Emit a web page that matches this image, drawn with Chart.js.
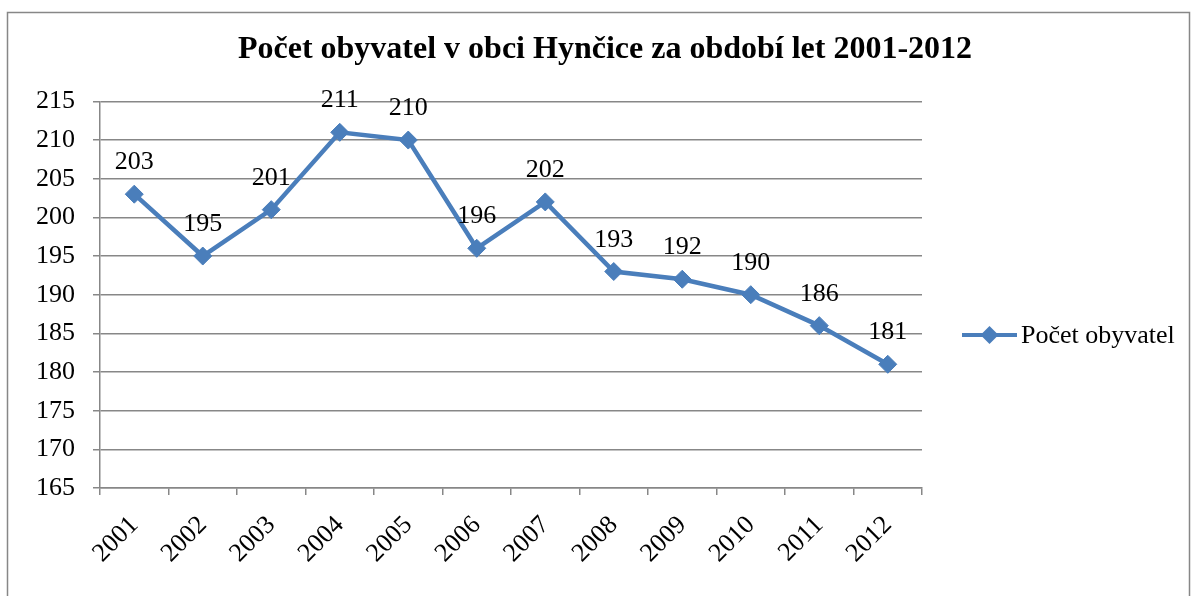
<!DOCTYPE html>
<html>
<head>
<meta charset="utf-8">
<script src="https://cdn.jsdelivr.net/npm/chart.js@4"></script>
<style>
  html, body { margin: 0; padding: 0; background: #fff; }
  #wrap { width: 1194px; height: 596px; }
</style>
</head>
<body>
<div id="wrap"><canvas id="myChart" width="1194" height="596"></canvas></div>
<script>
// data
var years = ['2001', '2002', '2003', '2004', '2005', '2006', '2007', '2008', '2009', '2010', '2011', '2012'];
var population = [203, 195, 201, 211, 210, 196, 202, 193, 192, 190, 186, 181];
var seriesName = 'Počet obyvatel';
var chartTitle = 'Počet obyvatel v obci Hynčice za období let 2001-2012';
var yMin = 165, yMax = 215, yStep = 5;

var serif = "'Liberation Serif', 'Times New Roman', serif";
var blue = '#4a7ebb';
var gray = '#878787';

// frame around the whole chart
var framePlugin = {
  id: 'frame',
  beforeDraw: function(chart) {
    var c = chart.ctx;
    c.save();
    c.fillStyle = '#fff';
    c.fillRect(0, 0, chart.width, chart.height);
    c.strokeStyle = gray;
    c.lineWidth = 1.5;
    c.strokeRect(7.5, 12.5, 1182, 600);
    c.restore();
  }
};

// value labels above each point
var valueLabels = {
  id: 'valueLabels',
  afterDatasetsDraw: function(chart) {
    var c = chart.ctx;
    var meta = chart.getDatasetMeta(0);
    c.save();
    c.font = '26px ' + serif;
    c.fillStyle = '#000';
    c.textAlign = 'center';
    c.textBaseline = 'alphabetic';
    meta.data.forEach(function(pt, i) {
      c.fillText(String(population[i]), pt.x, pt.y - 25);
    });
    c.restore();
  }
};

// Excel-like legend: line with a diamond, then the name
var sideLegend = {
  id: 'sideLegend',
  afterDraw: function(chart) {
    var c = chart.ctx;
    var y = 335;
    c.save();
    c.strokeStyle = blue;
    c.lineWidth = 4;
    c.beginPath();
    c.moveTo(962, y);
    c.lineTo(1017, y);
    c.stroke();
    c.fillStyle = blue;
    c.beginPath();
    c.moveTo(989.5, y - 9); c.lineTo(998.5, y); c.lineTo(989.5, y + 9); c.lineTo(980.5, y);
    c.closePath();
    c.fill();
    c.font = '26px ' + serif;
    c.fillStyle = '#000';
    c.textAlign = 'left';
    c.textBaseline = 'middle';
    c.fillText(seriesName, 1021, y + 1);
    c.restore();
  }
};

var ctx = document.getElementById('myChart');
new Chart(ctx, {
  type: 'line',
  data: {
    labels: years,
    datasets: [{
      label: seriesName,
      data: population,
      borderColor: blue,
      backgroundColor: blue,
      borderWidth: 4.5,
      pointStyle: 'rectRot',
      pointRadius: 9,
      pointBorderWidth: 1,
      pointBackgroundColor: blue,
      pointBorderColor: blue,
      tension: 0,
      yAxisID: 'y'
    }]
  },
  options: {
    responsive: false,
    animation: false,
    layout: { padding: { left: 16, right: 0, top: 0, bottom: 0 } },
    plugins: {
      legend: { display: false },
      tooltip: { enabled: false },
      title: {
        display: true,
        text: chartTitle,
        color: '#000',
        font: { family: serif, size: 32, weight: 'bold', lineHeight: 1.2 },
        padding: { top: 31, bottom: 32 }
      }
    },
    scales: {
      x: {
        offset: true,
        grid: {
          offset: true,
          drawOnChartArea: false,
          drawTicks: true,
          tickLength: 7,
          color: gray,
          lineWidth: 1.5
        },
        border: { display: true, color: gray, width: 1.5 },
        ticks: {
          color: '#000',
          font: { family: serif, size: 26 },
          minRotation: 45,
          maxRotation: 45,
          padding: 15
        },
        afterFit: function(scale) { scale.height = 108; }
      },
      y: {
        position: 'left',
        min: yMin,
        max: yMax,
        grid: {
          color: gray,
          lineWidth: 1.5,
          drawTicks: true,
          tickLength: 7
        },
        border: { display: true, color: gray, width: 1.5 },
        ticks: {
          stepSize: yStep,
          color: '#000',
          font: { family: serif, size: 26 },
          padding: 18
        },
        afterFit: function(scale) { scale.width = 84; }
      },
      side: {
        position: 'right',
        display: true,
        grid: { display: false },
        border: { display: false },
        ticks: { display: false },
        afterFit: function(scale) { scale.width = 272; }
      }
    }
  },
  plugins: [framePlugin, valueLabels, sideLegend]
});
</script>
</body>
</html>
